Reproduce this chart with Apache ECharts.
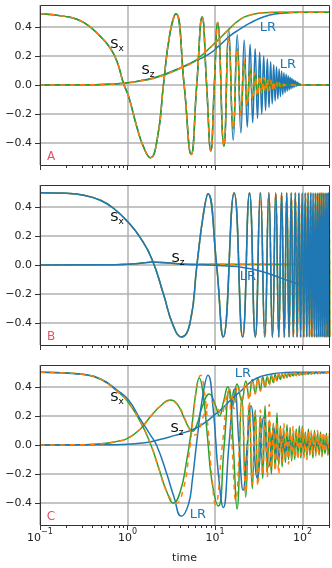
<!DOCTYPE html>
<html>
<head>
<meta charset="utf-8">
<script src="https://cdn.jsdelivr.net/npm/echarts@6/dist/echarts.min.js"></script>
<style>
  html, body { margin: 0; padding: 0; background: #fff; }
  #main { width: 332px; height: 568px; }
</style>
</head>
<body>
<div id="main"></div>
<script>
var BLUE = '#1f77b4', ORANGE = '#ff7f0e', GREEN = '#2ca02c';
var FONT = 'DejaVu Sans';

// axis ticks
var xMajor = [0.1, 1, 10, 100];
var xMinor = [0.2, 0.3, 0.4, 0.5, 0.6, 0.7, 0.8, 0.9, 2, 3, 4, 5, 6, 7, 8, 9,
  20, 30, 40, 50, 60, 70, 80, 90, 200];
var yTicks = [-0.4, -0.2, 0, 0.2, 0.4];

// ---- panel A ----
var aSxHeadT = [0.1, 0.2, 0.315, 0.49, 0.635, 0.76, 0.9, 1.03, 1.28, 1.52, 1.82, 2.2, 2.57, 3.04, 3.57, 4.43, 5.33, 6.17, 7.11, 8.0, 8.93, 9.8, 10.7, 12.6];
var aSxHeadV = [0.49, 0.47, 0.43, 0.333, 0.253, 0.16, 0.01, -0.08, -0.29, -0.425, -0.5, -0.36, 0.0, 0.35, 0.49, 0.0, -0.478, 0.0, 0.467, 0.0, -0.453, 0.0, 0.43, -0.42];
var aTailT = [14.3, 16.1, 17.9, 19.7, 21.5, 23.3, 25.1, 26.9, 28.7, 30.5, 32.3, 34.1, 35.9, 37.7, 39.5, 41.3, 43.1, 44.9, 46.7, 48.5,
  50.3, 52.1, 53.9, 55.7, 57.5, 59.3, 61.1, 62.9, 64.7, 66.5, 68.3, 70.1, 71.9, 73.7, 75.5, 77.3, 79.1, 80.9, 82.7, 84.5,
  86.3, 88.1, 89.9, 91.7, 93.5, 97, 200];
var aSxBlueTail = [0.385, -0.38, 0.345, -0.33, 0.31, -0.29, 0.28, -0.26, 0.25, -0.23, 0.225, -0.2, 0.2, -0.175, 0.18, -0.155, 0.16, -0.13, 0.14, -0.11,
  0.125, -0.095, 0.11, -0.08, 0.097, -0.066, 0.085, -0.054, 0.074, -0.043, 0.063, -0.034, 0.053, -0.026, 0.044, -0.019, 0.035, -0.013, 0.027, -0.008,
  0.02, -0.004, 0.013, -0.002, 0.007, 0, 0];
var aSxGreenTail = [0.33, -0.30, 0.25, -0.21, 0.17, -0.14, 0.12, -0.1, 0.085, -0.075, 0.065, -0.058, 0.052, -0.046, 0.041, -0.036, 0.032, -0.028, 0.025, -0.022,
  0.019, -0.016, 0.014, -0.011, 0.009, -0.007, 0.005, -0.003, 0.002, -0.001, 0, 0, 0, 0, 0, 0, 0, 0, 0, 0,
  0, 0, 0, 0, 0, 0, 0];
var aSzGreenT = [0.1, 0.3, 0.6, 0.9, 1.4, 2.0, 2.8, 4.0, 5.7, 8.0, 10.4, 14.8, 19.2, 24.9, 35.5, 50, 200];
var aSzGreenV = [0, 0.001, 0.005, 0.012, 0.028, 0.046, 0.076, 0.115, 0.16, 0.235, 0.30, 0.39, 0.45, 0.48, 0.497, 0.5, 0.5];
var aSzBlueT = [0.1, 0.3, 0.6, 0.9, 1.4, 2.0, 2.8, 4.0, 5.7, 8.4, 11.4, 14.8, 19.2, 24.9, 35.5, 50.5, 71.5, 100, 200];
var aSzBlueV = [0, 0.001, 0.005, 0.012, 0.03, 0.05, 0.08, 0.118, 0.16, 0.21, 0.276, 0.338, 0.384, 0.425, 0.467, 0.49, 0.497, 0.5, 0.5];

// ---- panel B ----
var bSxHeadT = [0.1, 0.2, 0.315, 0.49, 0.69, 1.03, 1.39, 1.9, 2.57, 3.34, 4.15, 5.17, 6.2, 7.35, 8.3, 10.4];
var bSxHeadV = [0.497, 0.493, 0.48, 0.445, 0.39, 0.29, 0.19, 0.04, -0.2, -0.42, -0.495, -0.4, 0.0, 0.35, 0.49, 0.0];
var bSxBlueTailT = [12.4, 16.5, 20.6, 24.7, 28.8, 32.9, 37.0, 41.1, 45.2, 49.3, 53.4, 57.5, 61.6, 65.7, 69.8, 73.9, 78.0, 82.1, 86.2, 90.3,
  94.4, 98.5, 102.6, 106.7, 110.8, 114.9, 119.0, 123.1, 127.2, 131.3, 135.4, 139.5, 143.6, 147.7, 151.8, 155.9, 160.0, 164.1, 168.2, 172.3,
  176.4, 180.5, 184.6, 188.7, 192.8, 196.9, 201.0];
var bSxGreenTailT = [12.4, 16.5, 20.6, 24.7, 28.8, 32.9, 37.0, 41.1, 45.2, 49.3, 53.4, 57.5, 61.7, 65.9, 70.1, 74.3, 78.5, 82.7, 86.9, 91.1,
  95.3, 99.5, 103.7, 107.9, 112.1, 116.3, 120.5, 124.7, 128.9, 133.1, 137.3, 141.5, 145.7, 149.9, 154.1, 158.3, 162.5, 166.7, 170.9, 175.1,
  179.3, 183.5, 187.7, 191.9, 196.1, 200.3, 204.5];
var bSxTailV = [-0.495, 0.495, -0.495, 0.495, -0.495, 0.495, -0.495, 0.495, -0.495, 0.495, -0.495, 0.495, -0.495, 0.495, -0.495, 0.495, -0.495, 0.495, -0.495, 0.495,
  -0.495, 0.495, -0.495, 0.495, -0.495, 0.495, -0.495, 0.495, -0.495, 0.495, -0.495, 0.495, -0.495, 0.495, -0.495, 0.495, -0.495, 0.495, -0.495, 0.495,
  -0.495, 0.495, -0.495, 0.495, -0.495, 0.495, -0.495];
var bSzBlueT = [0.1, 0.5, 1.0, 1.4, 1.9, 2.6, 3.5, 5.0, 7.0, 10, 14, 20, 34, 57, 96, 200];
var bSzBlueV = [0, 0.001, 0.005, 0.012, 0.02, 0.017, 0.01, 0.004, 0.001, -0.002, -0.007, -0.016, -0.045, -0.09, -0.136, -0.18];
var bSzGreenT = [0.1, 0.5, 1.0, 1.4, 1.9, 2.6, 3.5, 5.0, 7.0, 10, 200];
var bSzGreenV = [0, 0.001, 0.005, 0.012, 0.019, 0.016, 0.01, 0.006, 0.005, 0.005, 0.005];

// ---- panel C ----
var cSxBlueT = [0.1, 0.32, 0.5, 0.76, 1.03, 1.39, 1.82, 2.16, 2.81, 3.4, 4.1, 4.95, 5.5, 6.17, 7.35, 8.3, 9.5, 10.9, 12.4, 14.4,
  16.7, 18.8, 20.9, 23.3, 25.7, 30.4, 36, 41, 46.7, 51.7, 57, 63, 69, 75, 81, 87, 95, 110, 200];
var cSxBlueV = [0.5, 0.484, 0.452, 0.377, 0.308, 0.18, 0.07, -0.005, -0.2, -0.36, -0.49, -0.41, -0.24, 0.02, 0.365, 0.48, 0.25, -0.2, -0.43, 0.0,
  0.385, 0.0, -0.31, 0.0, 0.27, -0.23, 0.19, -0.15, 0.12, -0.1, 0.07, -0.05, 0.03, -0.02, 0.012, -0.006, 0.002, 0, 0];
var cSzBlueT = [0.1, 0.5, 1.0, 1.5, 2.0, 2.8, 3.5, 4.7, 6, 7.5, 10, 12, 16, 20, 27, 35, 46, 60, 80, 200];
var cSzBlueV = [0, 0.001, 0.005, 0.014, 0.027, 0.05, 0.066, 0.09, 0.115, 0.15, 0.21, 0.25, 0.325, 0.375, 0.445, 0.475, 0.49, 0.497, 0.5, 0.5];
var cSxGreenHeadT = [0.1, 0.2, 0.32, 0.5, 0.76, 1.0, 1.4, 1.85, 2.3, 2.8, 3.35, 4.0, 4.7, 5.4, 6.0, 6.6, 7.3, 8.2, 9.2, 10.9, 12.7, 14.5, 16.1, 17.8];
var cSxGreenHeadV = [0.5, 0.495, 0.485, 0.45, 0.37, 0.30, 0.16, 0.0, -0.17, -0.32, -0.40, -0.32, -0.12, 0.12, 0.35, 0.46, 0.35, 0.05, -0.25, -0.42, 0.0, 0.38, 0.0, -0.44];
var cSxOrangeHeadT = [0.1, 0.2, 0.32, 0.5, 0.76, 1.0, 1.4, 1.85, 2.3, 2.8, 3.6, 4.3, 5.0, 5.6, 6.2, 6.85, 7.5, 8.4, 9.2, 10.1, 12.1, 14.2, 15.6, 17.2];
var cSxOrangeHeadV = [0.5, 0.495, 0.485, 0.45, 0.37, 0.30, 0.16, 0.0, -0.17, -0.32, -0.40, -0.31, -0.08, 0.18, 0.4, 0.48, 0.38, 0.08, -0.22, -0.41, 0.0, 0.36, 0.0, -0.38];
var cSzGreenHeadT = [0.1, 0.3, 0.5, 0.76, 1.0, 1.4, 1.85, 2.4, 3.05, 3.7, 4.4, 5.0, 5.5, 6.2, 7.2, 8.6, 10.0, 11.2, 12.5, 14.0, 15.8, 17.8];
var cSzGreenHeadV = [0, 0.002, 0.008, 0.025, 0.045, 0.11, 0.2, 0.27, 0.31, 0.28, 0.19, 0.12, 0.095, 0.14, 0.27, 0.35, 0.28, 0.2, 0.3, 0.4, 0.27, 0.42];
var cSzOrangeHeadT = [0.1, 0.3, 0.5, 0.76, 1.0, 1.4, 1.85, 2.4, 3.05, 3.8, 4.6, 5.3, 5.9, 6.6, 7.6, 9.0, 10.5, 11.8, 13.2, 14.8, 16.4, 18.2];
var cSzOrangeHeadV = [0, 0.002, 0.008, 0.025, 0.045, 0.11, 0.2, 0.27, 0.305, 0.27, 0.17, 0.09, 0.068, 0.11, 0.22, 0.3, 0.26, 0.21, 0.33, 0.38, 0.25, 0.41];
var cDenseT = [20.2, 22.4, 24.5, 26.6, 28.7, 30.8, 32.9, 35.0, 37.2, 39.4, 41.6, 43.9, 46.2, 48.5, 50.9, 53.3, 55.8, 58.3, 60.9, 63.5,
  66.2, 69.0, 71.9, 74.9, 78.0, 81.2, 84.5, 88.0, 91.6, 95.3, 99.2, 103.2, 107.4, 111.8, 116.3, 121.0, 126.0, 131.0, 136.5, 142.0,
  148.0, 154.0, 160.0, 166.5, 173.0, 180.0, 187.0, 194.5, 202.0];
var cSxGreenDense = [0.33, -0.36, 0.28, -0.30, 0.24, -0.26, 0.2, -0.23, 0.27, -0.19, 0.17, -0.2, 0.15, -0.16, 0.22, -0.14, 0.13, -0.15, 0.11, -0.12,
  0.14, -0.1, 0.12, -0.11, 0.09, -0.1, 0.11, -0.08, 0.13, -0.09, 0.13, -0.07, 0.09, -0.08, 0.11, -0.07, 0.08, -0.09, 0.1, -0.06,
  0.08, -0.07, 0.09, -0.08, 0.07, -0.06, 0.08, -0.07, 0.06];
var cSxOrangeDense = [0.3, -0.33, 0.3, -0.27, 0.22, -0.28, 0.24, -0.2, 0.18, -0.22, 0.28, -0.16, 0.14, -0.18, 0.16, -0.2, 0.12, -0.12, 0.15, -0.1,
  0.11, -0.13, 0.1, -0.09, 0.13, -0.08, 0.09, -0.1, 0.1, -0.07, 0.12, -0.09, 0.08, -0.1, 0.09, -0.06, 0.1, -0.07, 0.08, -0.08,
  0.1, -0.06, 0.07, -0.07, 0.09, -0.05, 0.07, -0.06, 0.08];
var cSzGreenDense = [0.3, 0.44, 0.33, 0.45, 0.36, 0.46, 0.38, 0.47, 0.4, 0.47, 0.42, 0.48, 0.43, 0.485, 0.445, 0.49, 0.45, 0.49, 0.46, 0.49,
  0.465, 0.495, 0.47, 0.495, 0.475, 0.495, 0.48, 0.497, 0.48, 0.497, 0.483, 0.498, 0.485, 0.498, 0.487, 0.499, 0.488, 0.499, 0.49, 0.5,
  0.49, 0.5, 0.492, 0.5, 0.493, 0.5, 0.494, 0.5, 0.495];
var cSzOrangeDense = [0.32, 0.43, 0.31, 0.45, 0.35, 0.46, 0.37, 0.465, 0.39, 0.475, 0.41, 0.48, 0.425, 0.485, 0.44, 0.488, 0.45, 0.49, 0.455, 0.492,
  0.46, 0.494, 0.468, 0.495, 0.472, 0.496, 0.476, 0.497, 0.48, 0.497, 0.482, 0.498, 0.484, 0.498, 0.486, 0.499, 0.488, 0.499, 0.489, 0.5,
  0.49, 0.5, 0.491, 0.5, 0.492, 0.5, 0.493, 0.5, 0.494];

function pairs(t, v) {
  return t.map(function (x, i) { return [x, v[i]]; });
}

var GRID_TOPS = [5, 185, 365];
var GRID_LEFT = 40, GRID_W = 289, GRID_H = 160;

function fmtY(v) {
  return (v < -1e-9 ? '\u2212' : '') + Math.abs(v).toFixed(1);
}
function fmtX(v) {
  var e = Math.round(Math.log(v) / Math.LN10);
  return '{b|10}{s|' + (e < 0 ? '\u2212' : '') + Math.abs(e) + '}';
}

function line(p, data, color, dashed, z) {
  return {
    type: 'line',
    xAxisIndex: p * 2,
    yAxisIndex: p,
    data: data,
    z: z,
    smooth: 0.5,
    symbol: 'none',
    showSymbol: false,
    silent: true,
    animation: false,
    lineStyle: { color: color, width: 1.5, type: dashed ? [5, 5] : 'solid' },
    itemStyle: { color: color }
  };
}

var grids = [], xAxes = [], yAxes = [];
for (var p = 0; p < 3; p++) {
  var bottom = p === 2;
  grids.push({ left: GRID_LEFT, top: GRID_TOPS[p], width: GRID_W, height: GRID_H, outerBoundsMode: 'none' });
  xAxes.push({
    type: 'log', logBase: 10, gridIndex: p, min: 0.1, max: 200, position: 'bottom',
    axisLine: { show: false, onZero: false },
    axisTick: { show: true, customValues: xMajor, length: 5, lineStyle: { color: '#333', width: 1 } },
    axisLabel: {
      show: bottom, customValues: xMajor, formatter: fmtX, margin: 3,
      rich: {
        b: { fontFamily: FONT, fontSize: 11, color: '#222', lineHeight: 16, verticalAlign: 'bottom' },
        s: { fontFamily: FONT, fontSize: 8, color: '#222', lineHeight: 16, verticalAlign: 'top' }
      }
    },
    splitLine: { show: true, lineStyle: { color: '#b0b0b0', width: 1.5 } },
    name: bottom ? 'time' : '', nameLocation: 'middle', nameGap: 28,
    nameTextStyle: { fontFamily: FONT, fontSize: 11, color: '#222' }
  });
  xAxes.push({
    type: 'log', logBase: 10, gridIndex: p, min: 0.1, max: 200, position: 'bottom',
    axisLine: { show: false, onZero: false },
    axisTick: { show: true, customValues: xMinor, length: 3, lineStyle: { color: '#333', width: 1 } },
    axisLabel: { show: false },
    splitLine: { show: false }
  });
  yAxes.push({
    type: 'value', gridIndex: p, min: -0.55, max: 0.55,
    axisLine: { show: false, onZero: false },
    axisTick: { show: true, customValues: yTicks, length: 5, lineStyle: { color: '#333', width: 1 } },
    axisLabel: { customValues: yTicks, formatter: fmtY, fontFamily: FONT, fontSize: 11, color: '#222', margin: 8 },
    splitLine: { show: true, lineStyle: { color: '#b0b0b0', width: 1.5 } }
  });
}

var series = [
  // A: blue underneath, green, orange dashed on top
  line(0, pairs(aSzBlueT, aSzBlueV), BLUE, false, 2),
  line(0, pairs(aSxHeadT, aSxHeadV).concat(pairs(aTailT, aSxBlueTail)), BLUE, false, 2),
  line(0, pairs(aSzGreenT, aSzGreenV), GREEN, false, 3),
  line(0, pairs(aSxHeadT, aSxHeadV).concat(pairs(aTailT, aSxGreenTail)), GREEN, false, 3),
  line(0, pairs(aSzGreenT, aSzGreenV), ORANGE, true, 4),
  line(0, pairs(aSxHeadT, aSxHeadV).concat(pairs(aTailT, aSxGreenTail)), ORANGE, true, 4),
  // B: green, orange, blue on top
  line(1, pairs(bSzGreenT, bSzGreenV), GREEN, false, 2),
  line(1, pairs(bSxHeadT, bSxHeadV).concat(pairs(bSxGreenTailT, bSxTailV)), GREEN, false, 2),
  line(1, pairs(bSzGreenT, bSzGreenV), ORANGE, true, 3),
  line(1, pairs(bSxHeadT, bSxHeadV).concat(pairs(bSxGreenTailT, bSxTailV)), ORANGE, true, 3),
  line(1, pairs(bSzBlueT, bSzBlueV), BLUE, false, 4),
  line(1, pairs(bSxHeadT, bSxHeadV).concat(pairs(bSxBlueTailT, bSxTailV)), BLUE, false, 4),
  // C
  line(2, pairs(cSzGreenHeadT, cSzGreenHeadV).concat(pairs(cDenseT, cSzGreenDense)), GREEN, false, 2),
  line(2, pairs(cSxGreenHeadT, cSxGreenHeadV).concat(pairs(cDenseT, cSxGreenDense)), GREEN, false, 2),
  line(2, pairs(cSzBlueT, cSzBlueV), BLUE, false, 3),
  line(2, pairs(cSxBlueT, cSxBlueV), BLUE, false, 3),
  line(2, pairs(cSzOrangeHeadT, cSzOrangeHeadV).concat(pairs(cDenseT, cSzOrangeDense)), ORANGE, true, 4),
  line(2, pairs(cSxOrangeHeadT, cSxOrangeHeadV).concat(pairs(cDenseT, cSxOrangeDense)), ORANGE, true, 4)
];

// annotations
var SUB_RICH = {
  s: { fontFamily: FONT, fontSize: 13, color: '#111', lineHeight: 16, verticalAlign: 'middle' },
  b: { fontFamily: FONT, fontSize: 9, color: '#111', lineHeight: 16, verticalAlign: 'bottom' }
};
function spinLabel(x, y, sub) {
  return { type: 'text', x: x, y: y, z: 200, silent: true,
    style: { text: '{s|S}{b|' + sub + '}', rich: SUB_RICH, align: 'center', verticalAlign: 'middle' } };
}
function plainLabel(x, y, text, color, size) {
  return { type: 'text', x: x, y: y, z: 200, silent: true,
    style: { text: text, fill: color, font: size + 'px "' + FONT + '"', align: 'center', verticalAlign: 'middle' } };
}
var graphics = [];
for (var q = 0; q < 3; q++) {
  graphics.push({ type: 'rect', z: 150, silent: true,
    shape: { x: GRID_LEFT + 0.5, y: GRID_TOPS[q] + 0.5, width: GRID_W, height: GRID_H },
    style: { fill: 'none', stroke: '#333', lineWidth: 1 } });
}
var LETTER = '#e8506a';
graphics.push(
  spinLabel(117, 45, 'x'), spinLabel(148, 71, 'z'),
  plainLabel(268, 28, 'LR', BLUE, 13), plainLabel(288, 65, 'LR', BLUE, 13),
  plainLabel(51, 157, 'A', LETTER, 12),
  spinLabel(117, 218, 'x'), spinLabel(178, 259, 'z'),
  plainLabel(248, 277, 'LR', BLUE, 13),
  plainLabel(51, 337, 'B', LETTER, 12),
  spinLabel(117, 398, 'x'), spinLabel(177, 429, 'z'),
  plainLabel(243, 374, 'LR', BLUE, 13), plainLabel(198, 515, 'LR', BLUE, 13),
  plainLabel(51, 517, 'C', LETTER, 12)
);

var chart = echarts.init(document.getElementById('main'), null, { renderer: 'canvas' });
chart.setOption({
  backgroundColor: '#ffffff',
  animation: false,
  grid: grids,
  xAxis: xAxes,
  yAxis: yAxes,
  series: series,
  graphic: graphics
});
</script>
</body>
</html>
